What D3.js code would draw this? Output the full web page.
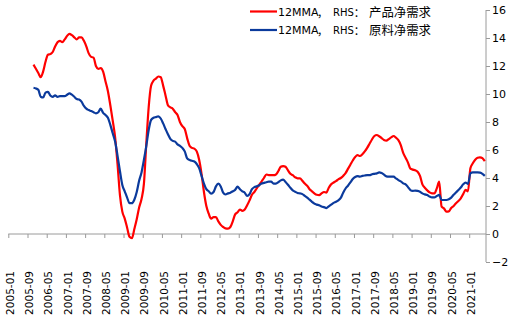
<!DOCTYPE html>
<html>
<head>
<meta charset="utf-8">
<script src="https://cdn.jsdelivr.net/npm/d3@7/dist/d3.min.js"></script>
<style>
  html, body { margin: 0; padding: 0; background: #fff; }
  svg { display: block; }
</style>
</head>
<body>
<svg id="chart" width="513" height="326"></svg>
<script>
// ---------- DATA ----------
const firstMonth = "2005-01";
const lastMonth = "2021-07";
const seriesStart = "2005-11";

// legend label pieces: prefix + series name
const legendPrefixA = "12MMA，";
const legendPrefixB = "RHS：";
const seriesNames = ["产品净需求", "原料净需求"];

const productNetDemand = [
  12.1, 11.8, 11.5, 11.2, 11.6, 12.3, 12.8, 12.85, 13.0, 13.4,
  13.7, 13.8, 13.7, 13.9, 14.15, 14.3, 14.2, 14.05, 13.9, 14.05,
  14.05, 13.8, 13.4, 12.9, 12.65, 12.6, 12.0, 11.8, 11.85, 11.6,
  10.9, 10.2, 9.2, 8.1, 6.9, 5.0, 2.8, 1.6, 1.1, 0.45,
  -0.2, -0.3, 0.35, 1.05, 1.9, 2.5, 3.6, 6.5, 9.1, 10.6,
  10.95, 11.1, 11.25, 11.2, 10.6, 9.9, 9.2, 9.05, 8.95, 8.7,
  8.5, 8.0, 7.7, 7.5, 6.85, 6.3, 6.15, 6.1, 5.9, 5.3,
  4.3, 3.0, 2.0, 1.45, 1.1, 1.2, 1.2, 0.9, 0.65, 0.5,
  0.4, 0.38, 0.5, 0.9, 1.4, 1.55, 1.75, 1.65, 1.75, 2.05,
  2.4, 2.8, 3.0, 3.26, 3.5, 3.75, 4.0, 4.25, 4.2, 4.2,
  4.2, 4.25, 4.5, 4.8, 4.85, 4.8, 4.55, 4.3, 4.2, 4.05,
  3.98, 3.98, 3.8, 3.6, 3.45, 3.2, 3.05, 2.9, 2.8, 2.78,
  2.9, 3.0, 2.95, 3.3, 3.55, 3.68, 3.78, 3.9, 4.0, 4.15,
  4.35, 4.65, 4.95, 5.25, 5.5, 5.63, 5.57, 5.7, 5.9, 6.15,
  6.45, 6.75, 7.0, 7.07, 6.98, 6.85, 6.72, 6.67, 6.78, 6.9,
  7.0, 6.88, 6.7, 6.35, 5.8, 5.45, 5.1, 4.67, 4.6, 4.55,
  4.45, 4.15, 3.55, 3.3, 3.12, 2.97, 2.9, 2.9, 3.26, 3.74,
  1.95, 1.83, 1.6, 1.62, 1.85, 2.0, 2.2, 2.35, 2.55, 2.85,
  3.15, 3.05, 4.7, 5.05, 5.3, 5.45, 5.48, 5.42, 5.2
];

const rawMaterialNetDemand = [
  10.45, 10.4, 10.3, 9.8, 9.75, 10.1, 10.15, 9.9, 9.8, 9.9,
  9.8, 9.85, 9.85, 9.85, 9.95, 10.05, 9.95, 9.8, 9.64, 9.6,
  9.45, 9.15, 8.95, 8.85, 8.78, 8.7, 8.62, 8.7, 8.95, 8.65,
  8.5, 8.3, 7.8, 7.2, 6.6, 5.6, 4.5, 3.5, 3.05, 2.6,
  2.2, 2.2, 2.45, 3.0, 3.8, 4.4, 5.3, 6.3, 7.45, 8.15,
  8.3, 8.35, 8.4, 8.25, 7.9, 7.5, 7.12, 6.8, 6.65, 6.6,
  6.4, 6.3, 6.15, 5.9, 5.4, 5.28, 5.23, 5.18, 5.0, 4.7,
  4.15, 3.6, 3.2, 3.05, 2.88, 3.0, 3.4, 3.6, 3.4, 2.95,
  2.82, 2.9, 2.95, 3.05, 3.15, 3.38, 3.2, 3.05, 2.95, 2.72,
  2.85, 3.2, 3.35, 3.4, 3.48, 3.6, 3.65, 3.7, 3.74, 3.74,
  3.6, 3.6, 3.7, 3.83, 3.88, 3.72, 3.52, 3.3, 3.12, 3.02,
  2.93, 2.9, 2.85, 2.72, 2.6, 2.45, 2.3, 2.17, 2.1, 2.05,
  1.96, 1.92, 1.85, 1.98, 2.1, 2.22, 2.3, 2.4, 2.58, 2.95,
  3.25, 3.45, 3.68, 3.93, 4.07, 4.13, 4.1, 4.15, 4.18, 4.2,
  4.2, 4.27, 4.3, 4.33, 4.4, 4.35, 4.24, 4.12, 4.1, 4.1,
  4.1, 3.97, 3.85, 3.76, 3.62, 3.55, 3.35, 3.14, 3.08, 3.1,
  3.08, 3.02, 2.9, 2.83, 2.78, 2.68, 2.62, 2.62, 2.71, 2.79,
  2.43, 2.43, 2.43, 2.48, 2.6, 2.8, 2.97, 3.14, 3.32, 3.55,
  3.67, 3.58, 4.33, 4.4, 4.4, 4.4, 4.38, 4.3, 4.15
];

const xTickLabels = [
  "2005-01","2005-09","2006-05","2007-01","2007-09","2008-05","2009-01","2009-09",
  "2010-05","2011-01","2011-09","2012-05","2013-01","2013-09","2014-05","2015-01",
  "2015-09","2016-05","2017-01","2017-09","2018-05","2019-01","2019-09","2020-05","2021-01"
];
const yTickValues = [-2, 0, 2, 4, 6, 8, 10, 12, 14, 16];

const colors = ["#ff0000", "#0b3a9c"];

// ---------- BUILD CATEGORIES ----------
function monthList(a, b) {
  const out = [];
  let [y, m] = a.split("-").map(Number);
  const [y2, m2] = b.split("-").map(Number);
  while (y < y2 || (y === y2 && m <= m2)) {
    out.push(y + "-" + String(m).padStart(2, "0"));
    m++; if (m > 12) { m = 1; y++; }
  }
  return out;
}
const months = monthList(firstMonth, lastMonth);
const startIdx = months.indexOf(seriesStart);

// ---------- LAYOUT ----------
const svg = d3.select("#chart");
const plotLeft = 8.3, plotRight = 486, plotTop = 10, plotBottom = 262;

const x = d3.scaleBand().domain(months).range([plotLeft, plotRight]).paddingInner(0).paddingOuter(0);
const y = d3.scaleLinear().domain([-2, 16]).range([plotBottom, plotTop]);

const axisColor = "#9a9a9a";
const tickFont = "'DejaVu Sans', Verdana, sans-serif";

// X axis at value 0 with ticks at band edges
const edgeScale = d3.scaleLinear().domain([0, months.length]).range([plotLeft, plotRight]);
const tickIdx = xTickLabels.map(l => months.indexOf(l));
const xAxis = d3.axisBottom(edgeScale).tickValues(tickIdx).tickSize(4).tickFormat("");
const gx = svg.append("g").attr("transform", `translate(0,${y(0)})`).call(xAxis);
gx.select(".domain").attr("stroke", axisColor).attr("d", `M${plotLeft},0H${plotRight}`);
gx.selectAll(".tick line").attr("stroke", axisColor);

// X labels at low position
svg.append("g").selectAll("text").data(xTickLabels).join("text")
  .attr("transform", d => `translate(${x(d) + x.bandwidth() / 2 + 0.5},271) rotate(-90)`)
  .attr("text-anchor", "end")
  .attr("dominant-baseline", "central")
  .attr("font-family", tickFont)
  .attr("font-size", 10.5)
  .attr("fill", "#000")
  .text(d => d);

// Right Y axis
const yAxis = d3.axisRight(y).tickValues(yTickValues).tickSize(4).tickPadding(2);
const gy = svg.append("g").attr("transform", `translate(${plotRight},0)`).call(yAxis);
gy.select(".domain").attr("stroke", axisColor).attr("d", `M0,${plotTop}V${plotBottom}`);
gy.selectAll(".tick line").attr("stroke", axisColor);
gy.selectAll(".tick text").attr("font-family", tickFont).attr("font-size", 11).attr("fill", "#000");

// Lines
const line = d3.line()
  .x(d => x(d.m) + x.bandwidth() / 2)
  .y(d => y(d.v))
  .curve(d3.curveMonotoneX);

[productNetDemand, rawMaterialNetDemand].forEach((arr, k) => {
  const pts = arr.map((v, i) => ({ m: months[startIdx + i], v }));
  svg.append("path").datum(pts)
    .attr("fill", "none")
    .attr("stroke", colors[k])
    .attr("stroke-width", 2.2)
    .attr("stroke-linejoin", "round")
    .attr("d", line);
});

// Legend
const legend = svg.append("g");
const legendY = [11.5, 30];
seriesNames.forEach((name, k) => {
  legend.append("line")
    .attr("x1", 250).attr("x2", 277)
    .attr("y1", legendY[k]).attr("y2", legendY[k])
    .attr("stroke", colors[k]).attr("stroke-width", 2.2);
  const t = legend.append("text")
    .attr("y", legendY[k])
    .attr("dominant-baseline", "central")
    .attr("fill", "#000");
  t.append("tspan").attr("x", 278)
    .attr("font-family", "'DejaVu Sans', sans-serif").attr("font-size", 11)
    .text(legendPrefixA.replace("，", ""));
  t.append("tspan").attr("x", 317)
    .attr("font-family", "'Noto Sans CJK SC', sans-serif").attr("font-size", 11)
    .text("，");
  t.append("tspan").attr("x", 333)
    .attr("font-family", "'DejaVu Sans', sans-serif").attr("font-size", 10)
    .text(legendPrefixB.replace("：", ""));
  t.append("tspan")
    .attr("font-family", "'Noto Sans CJK SC', sans-serif").attr("font-size", 11)
    .text("：");
  t.append("tspan").attr("x", 369)
    .attr("font-family", "'Noto Sans CJK SC', sans-serif").attr("font-size", 12.4)
    .text(name);
});
</script>
</body>
</html>
